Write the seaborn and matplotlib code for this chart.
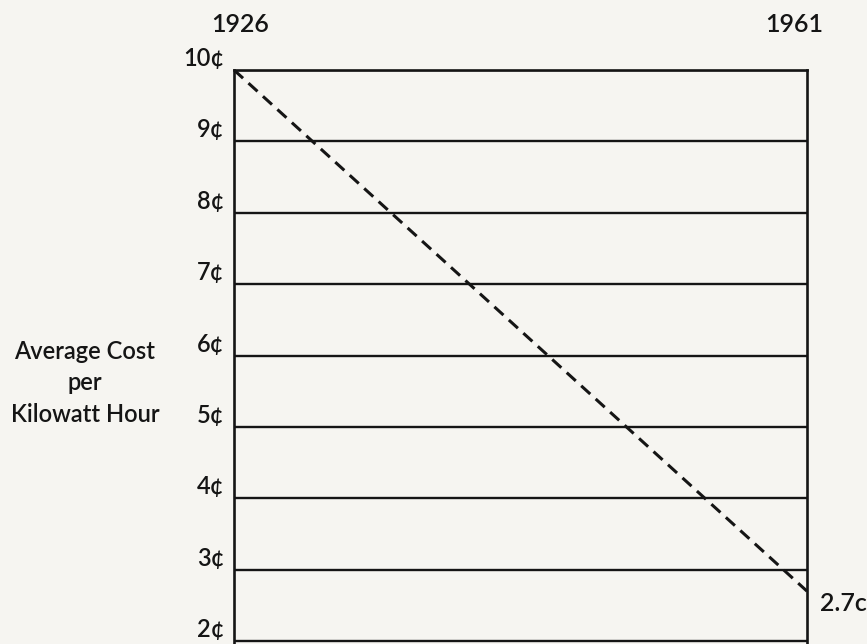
import matplotlib
matplotlib.use("Agg")
import matplotlib.pyplot as plt
import seaborn as sns
import pandas as pd

years = [1926, 1961]
cost_cents = [10.0, 2.7]
cent_levels = [2, 3, 4, 5, 6, 7, 8, 9, 10]
cent_labels = ["2¢", "3¢", "4¢", "5¢", "6¢", "7¢", "8¢", "9¢", "10¢"]
end_label = "2.7c"
ylabel_text = "Average Cost\nper\nKilowatt Hour"

sns.set_theme(style="white")
plt.rcParams['font.family'] = ['Lato', 'DejaVu Sans']
bg = "#f6f5f1"
ink = "#151515"
fw = "semibold"

fig = plt.figure(figsize=(8.67, 6.44), dpi=100, facecolor=bg)
W, H = 867, 644
left_px, right_px, top_px, bottom_px = 234, 807, 70, 644
ax = fig.add_axes([left_px / W, 1 - bottom_px / H, (right_px - left_px) / W, (bottom_px - top_px) / H])
ax.set_facecolor(bg)

df = pd.DataFrame({"year": years, "cost": cost_cents})
sns.lineplot(data=df, x="year", y="cost", ax=ax, color=ink, linewidth=2.2,
             linestyle=(0, (4, 2.4)), legend=False)

for lvl in cent_levels:
    ax.axhline(lvl, color=ink, linewidth=1.7, zorder=1)

ax.set_xlim(years[0], years[-1])
ax.set_ylim(1.96, 10)
ax.set_yticks(cent_levels)
ax.set_yticklabels(cent_labels, fontsize=17, color=ink, fontweight=fw)
ax.tick_params(axis="y", length=0, pad=7)
for lab in ax.get_yticklabels():
    lab.set_verticalalignment("bottom")
ax.set_xticks([])
ax.set_xlabel("")
ax.set_ylabel("")

for side in ["left", "right", "top"]:
    ax.spines[side].set_visible(True)
    ax.spines[side].set_color(ink)
    ax.spines[side].set_linewidth(1.9)
ax.spines["bottom"].set_visible(False)

ax.annotate(str(years[0]), xy=(0, 1), xycoords="axes fraction", xytext=(6, 45),
            textcoords="offset pixels", ha="center", va="center", fontsize=18,
            color=ink, fontweight=fw)
ax.annotate(str(years[-1]), xy=(1, 1), xycoords="axes fraction", xytext=(-13, 45),
            textcoords="offset pixels", ha="center", va="center", fontsize=18,
            color=ink, fontweight=fw)

ax.annotate(end_label, xy=(years[-1], cost_cents[-1]), xycoords="data", xytext=(13, -12),
            textcoords="offset pixels", ha="left", va="center", fontsize=18, color=ink,
            fontweight=fw, annotation_clip=False)

fig.text(85 / W, 1 - 383 / H, ylabel_text, ha="center", va="center", fontsize=17,
         color=ink, linespacing=1.45, fontweight=fw)

fig.savefig("out.png", dpi=100, facecolor=bg)
